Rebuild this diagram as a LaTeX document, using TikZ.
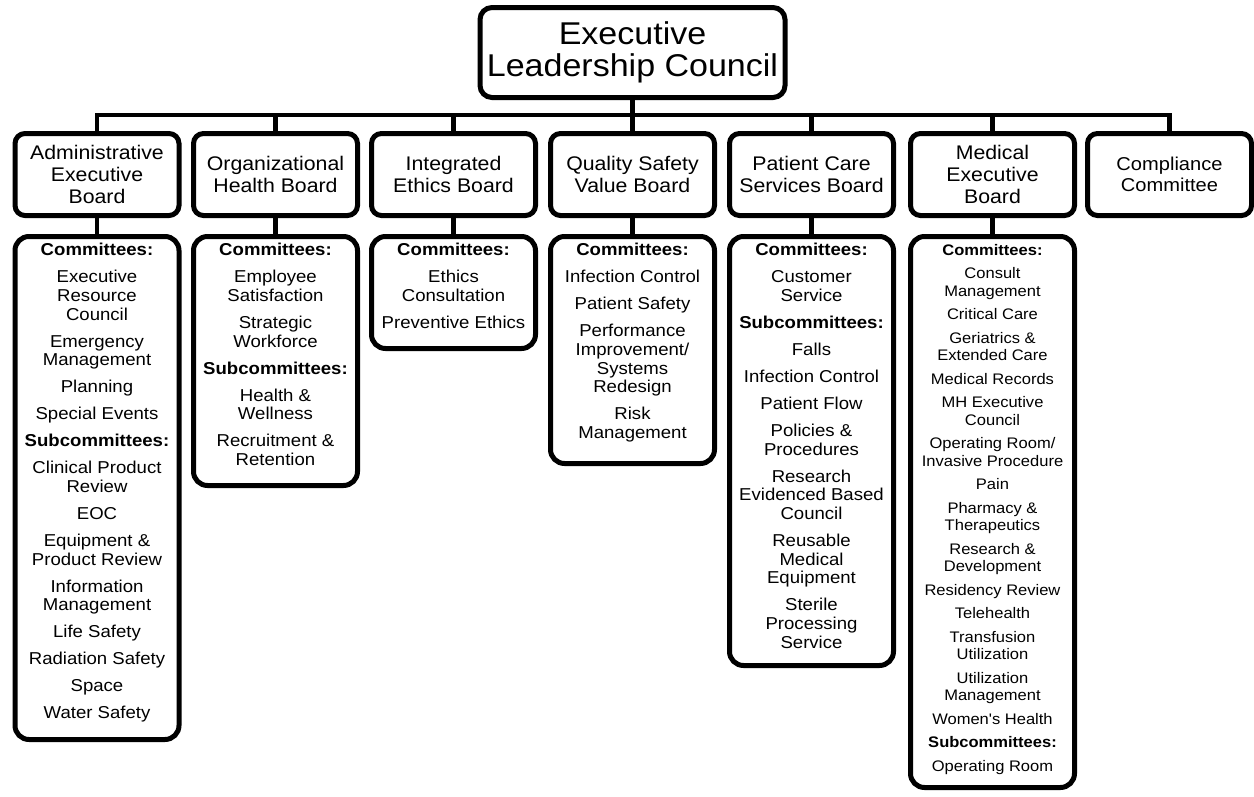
\documentclass[tikz,border=0pt]{standalone}
\usepackage{fontspec}
\newfontfamily\arialx{Liberation Sans}[FakeStretch=1.08]
\begin{document}
\begin{tikzpicture}[x=1pt,y=-1pt,
  box/.style={draw=black, line width=5pt, rounded corners=10pt, fill=white, inner sep=0pt},
  topbox/.style={box, rounded corners=12pt, minimum width=305pt, minimum height=90pt, align=center, font=\arialx\fontsize{31.5}{32}\selectfont},
  board/.style={box, minimum width=164pt, minimum height=82pt, align=center, font=\arialx\fontsize{19.7}{21.7}\selectfont},
  cbox/.style={box, rounded corners=14pt, minimum width=164pt},
  ctext/.style={anchor=north, inner sep=0pt, align=center, font=\arialx\fontsize{17.2}{18.7}\selectfont},
  mtext/.style={anchor=north, inner sep=0pt, align=center, font=\arialx\fontsize{15.3}{17.5}\selectfont},
  conn/.style={line width=4.8pt}]
\useasboundingbox (0,0) rectangle (1254,796);

% top
\node[topbox] (top) at (632.5,52.5) {Executive\\Leadership Council};

% boards
\node[board] (b1) at (97,174.5) {Administrative\\Executive\\Board};
\node[board] (b2) at (275.5,174.5) {Organizational\\Health Board};
\node[board] (b3) at (453.5,174.5) {Integrated\\Ethics Board};
\node[board] (b4) at (632.5,174.5) {Quality Safety\\Value Board};
\node[board] (b5) at (811.5,174.5) {Patient Care\\Services Board};
\node[board] (b6) at (992.5,174.5) {Medical\\Executive\\Board};
\node[board, font=\arialx\fontsize{18.6}{20.5}\selectfont] (b7) at (1169.5,174.5) {Compliance\\Committee};

% committee boxes
\node[cbox, minimum height=503pt] (c1) at (97,488) {};
\node[cbox, minimum height=249pt] (c2) at (275.5,361) {};
\node[cbox, minimum height=112pt] (c3) at (453.5,292.5) {};
\node[cbox, minimum height=227pt] (c4) at (632.5,350) {};
\node[cbox, minimum height=429pt] (c5) at (811.5,451) {};
\node[cbox, minimum height=551pt] (c6) at (992.5,512) {};

% committee texts
\node[ctext] (t1) at (97,243) {\textbf{Committees:}\\[8.3pt]
Executive\\Resource\\Council\\[8.3pt]
Emergency\\Management\\[8.3pt]
Planning\\[8.3pt]
Special Events\\[8.3pt]
\textbf{Subcommittees:}\\[8.3pt]
Clinical Product\\Review\\[8.3pt]
EOC\\[8.3pt]
Equipment \&\\Product Review\\[8.3pt]
Information\\Management\\[8.3pt]
Life Safety\\[8.3pt]
Radiation Safety\\[8.3pt]
Space\\[8.3pt]
Water Safety};

\node[ctext] (t2) at (275.5,243) {\textbf{Committees:}\\[8.3pt]
Employee\\Satisfaction\\[8.3pt]
Strategic\\Workforce\\[8.3pt]
\textbf{Subcommittees:}\\[8.3pt]
Health \&\\Wellness\\[8.3pt]
Recruitment \&\\Retention};

\node[ctext] (t3) at (453.5,243) {\textbf{Committees:}\\[8.3pt]
Ethics\\Consultation\\[8.3pt]
Preventive Ethics};

\node[ctext] (t4) at (632.5,243) {\textbf{Committees:}\\[8.3pt]
Infection Control\\[8.3pt]
Patient Safety\\[8.3pt]
Performance\\Improvement/\\Systems\\Redesign\\[8.3pt]
Risk\\Management};

\node[ctext] (t5) at (811.5,243) {\textbf{Committees:}\\[8.3pt]
Customer\\Service\\[8.3pt]
\textbf{Subcommittees:}\\[8.3pt]
Falls\\[8.3pt]
Infection Control\\[8.3pt]
Patient Flow\\[8.3pt]
Policies \&\\Procedures\\[8.3pt]
Research\\Evidenced Based\\Council\\[8.3pt]
Reusable\\Medical\\Equipment\\[8.3pt]
Sterile\\Processing\\Service};

\node[mtext] (t6) at (992.5,244) {\textbf{Committees:}\\[6pt]
Consult\\Management\\[6pt]
Critical Care\\[6pt]
Geriatrics \&\\Extended Care\\[6pt]
Medical Records\\[6pt]
MH Executive\\Council\\[6pt]
Operating Room/\\Invasive Procedure\\[6pt]
Pain\\[6pt]
Pharmacy \&\\Therapeutics\\[6pt]
Research \&\\Development\\[6pt]
Residency Review\\[6pt]
Telehealth\\[6pt]
Transfusion\\Utilization\\[6pt]
Utilization\\Management\\[6pt]
Women's Health\\[6pt]
\textbf{Subcommittees:}\\[6pt]
Operating Room};

% connectors
\coordinate (bary) at (0,115);
\foreach \b in {b1,b2,b3,b4,b5,b6,b7}
  \draw[conn] (top.south) -- (top.south |- bary) -| (\b.north);
\foreach \i in {1,...,6}
  \draw[conn] (b\i.south) -- (c\i.north);
\end{tikzpicture}
\end{document}
